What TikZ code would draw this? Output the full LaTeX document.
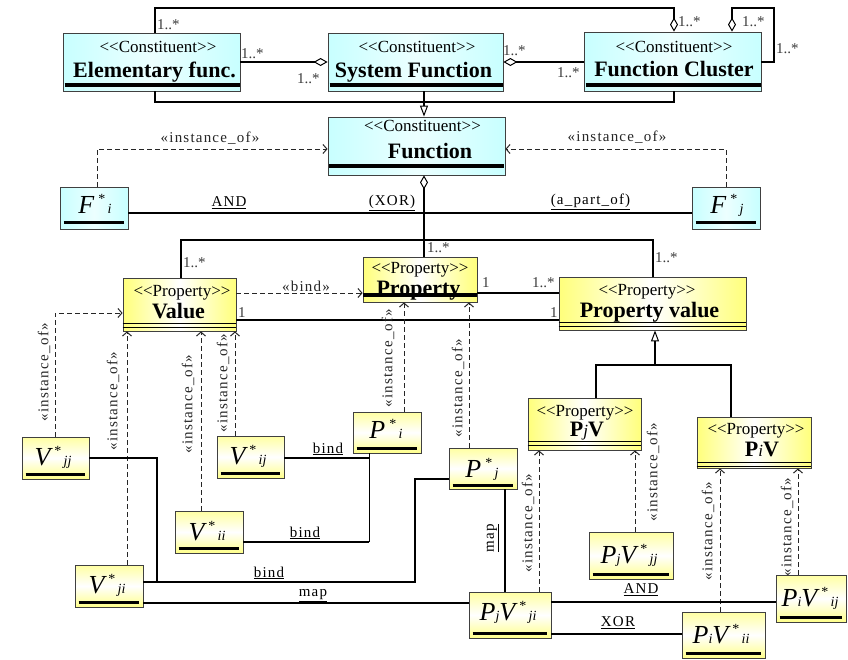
\documentclass[tikz,border=0pt]{standalone}
\usepackage{fontspec}
\setmainfont{Liberation Serif}
\newfontfamily\spaced[LetterSpace=8]{Liberation Serif}
\usetikzlibrary{arrows.meta,calc}
\definecolor{cyanbox}{RGB}{200,255,255}
\definecolor{ylw}{RGB}{255,255,100}
\definecolor{mult}{RGB}{60,60,60}
\newcommand\stL{<\kern0pt<}
\newcommand\stR{>\kern0pt>}
\newcommand\smallfs{\fontsize{14}{14}\selectfont}
\newcommand\mainit{\fontsize{26}{26}\selectfont\itshape}
\newcommand\stsb[1]{\kern4pt\raisebox{10pt}{\smallfs *}{\smallfs\itshape\,#1}}
\tikzset{
  box/.style={rectangle, draw=black!75, line width=0.8pt, inner sep=0pt},
  cbox/.style={box, left color=cyanbox, right color=cyanbox, middle color=cyanbox!35},
  ybig/.style={box, left color=ylw!85, right color=ylw!85, middle color=white},
  ysmall/.style={box, top color=ylw!60, bottom color=ylw!75, middle color=white},
  ster/.style={font=\fontsize{17}{17}\selectfont, anchor=base, inner sep=0pt},
  ttl/.style={font=\fontsize{22}{22}\selectfont\bfseries, anchor=base, inner sep=0pt},
  itx/.style={anchor=base, inner sep=0pt},
  mlt/.style={font=\fontsize{15}{15}\selectfont, text=mult, inner sep=0pt, anchor=west},
  conn/.style={line width=1.6pt, black},
  inst/.style={line width=1pt, black!85, dash pattern=on 5pt off 3pt, -{Straight Barb[length=4pt,width=9pt]}},
  agg/.style={conn, {Diamond[open, length=14pt, width=8pt, line width=1pt]}-},
  gen/.style={conn, -{Triangle[open, length=11pt, width=8pt, line width=1pt]}},
  lbl/.style={font=\spaced\fontsize{15}{15}\selectfont, inner sep=0pt},
  ilbl/.style={lbl, text=black!85, rotate=90},
  bar/.style={line width=4pt, black},
  dbar/.style={line width=1.7pt, black},
  ul/.style={line width=2.2pt, black},
}
\begin{document}
\begin{tikzpicture}[x=1pt,y=-1pt]
\useasboundingbox (0,0) rectangle (848,659);
\fill[white] (0,0) rectangle (848,659);

% ---------- boxes ----------
\node[cbox, minimum width=177pt, minimum height=58pt] (ef) at (151.5,62) {};
\node[cbox, minimum width=175pt, minimum height=58pt] (sf) at (415.5,62) {};
\node[cbox, minimum width=177pt, minimum height=59pt] (fc) at (672.5,61.5) {};
\node[cbox, minimum width=177pt, minimum height=58pt] (fn) at (416.5,146) {};
\node[cbox, minimum width=68pt, minimum height=42pt] (fi) at (94,208) {};
\node[cbox, minimum width=68pt, minimum height=42pt] (fj) at (726,208) {};
\node[ybig, minimum width=113pt, minimum height=53pt] (val) at (179.5,304.5) {};
\node[ybig, minimum width=114pt, minimum height=45pt] (pr) at (420,279.5) {};
\node[ybig, minimum width=187pt, minimum height=53pt] (pv) at (652.5,303.5) {};
\node[ybig, minimum width=113pt, minimum height=52pt] (pjv) at (584.5,424) {};
\node[ybig, minimum width=114pt, minimum height=51pt] (piv) at (754,442.5) {};
\node[ysmall, minimum width=67pt, minimum height=42pt] (vjj) at (55.5,458) {};
\node[ysmall, minimum width=67pt, minimum height=42pt] (vij) at (250.5,457) {};
\node[ysmall, minimum width=68pt, minimum height=41pt] (pi) at (387,432.5) {};
\node[ysmall, minimum width=68pt, minimum height=42pt] (vii) at (209,532) {};
\node[ysmall, minimum width=68pt, minimum height=42pt] (vji) at (109,586) {};
\node[ysmall, minimum width=68pt, minimum height=41pt] (pj) at (483,468.5) {};
\node[ysmall, minimum width=84pt, minimum height=47pt] (pjvjj) at (631,555.5) {};
\node[ysmall, minimum width=82pt, minimum height=46pt] (pjvji) at (510,615) {};
\node[ysmall, minimum width=83pt, minimum height=46pt] (pivii) at (723.5,635) {};
\node[ysmall, minimum width=70pt, minimum height=47pt] (pivij) at (811,598.5) {};

% ---------- bars ----------
\foreach \b in {ef,sf,fc}{\draw[bar] ($(\b.south west)+(2,-6)$) -- ($(\b.south east)+(0,-6)$);}
\draw[bar] ($(fn.south west)+(1,-9)$) -- ($(fn.south east)+(-1,-9)$);
\foreach \b/\o in {val/0,pv/0,pjv/-1,piv/2}{
  \draw[dbar] ($(\b.south west)+(0,-8+\o)$) -- ($(\b.south east)+(0,-8+\o)$);
  \draw[dbar] ($(\b.south west)+(0,-4+\o)$) -- ($(\b.south east)+(0,-4+\o)$);}
\foreach \b/\o in {fi/7,fj/7,vjj/5,vij/5,pi/5,vii/5,vji/5,pj/4,pjvjj/5,pjvji/5,pivii/5,pivij/5}{
  \draw[ul] ($(\b.south west)+(4,-\o)$) -- ($(\b.south east)+(-4,-\o)$);}

% ---------- coordinates ----------
\coordinate (t1) at (155,8);  \coordinate (t2) at (674,8);
\coordinate (s1) at (732,8);  \coordinate (s2) at (774,8);  \coordinate (s3) at (774,62);
\coordinate (g1) at (155,102); \coordinate (g2) at (674,102); \coordinate (x424) at (424,102);
\coordinate (i1) at (97,149);  \coordinate (i2) at (726,149);
\coordinate (h1) at (424,213);
\coordinate (e1) at (181,240); \coordinate (e2) at (653,240);
\coordinate (b1) at (0,293);   \coordinate (b2) at (0,320);
\coordinate (g3) at (655,365); \coordinate (g4) at (596,365); \coordinate (g5) at (731,365);
\coordinate (k1) at (55,313);
\coordinate (k2) at (127,0); \coordinate (k3) at (201,0); \coordinate (k4) at (235,0);
\coordinate (k5) at (404,0); \coordinate (k6) at (469,0); \coordinate (k7) at (539,0);
\coordinate (k8) at (635,0); \coordinate (k9) at (720,0); \coordinate (k10) at (798,0);
\coordinate (m1) at (157,458); \coordinate (m2) at (157,582);
\coordinate (m3) at (415,582); \coordinate (m4) at (415,479);
\coordinate (n1) at (369,458); \coordinate (n2) at (369,542);
\coordinate (p1) at (0,603); \coordinate (q1) at (505,0);
\coordinate (r1) at (0,602); \coordinate (r2) at (0,634);

% ---------- connectors ----------
\draw[agg] (fc.north -| t2) -- (t2) -- (t1) -- (ef.north -| t1);
\draw[agg] (fc.north -| s1) -- (s1) -- (s2) -- (s3) -- (fc.east |- s3);
\draw[agg] (sf.west) -- (ef.east);
\draw[agg] (sf.east) -- (fc.west |- sf.east);
\draw[conn] (ef.south -| g1) -- (g1) -- (g2) -- (fc.south -| g2);
\draw[gen] (sf.south -| x424) -- (fn.north -| x424);
\draw[inst] (fi.north -| i1) -- (i1) -- (fn.west |- i1);
\draw[inst] (fj.north -| i2) -- (i2) -- (fn.east |- i2);
\draw[conn] (fi.east |- h1) -- (fj.west |- h1);
\draw[agg] (fn.south -| h1) -- (pr.north -| h1);
\draw[conn] (val.north -| e1) -- (e1) -- (e2) -- (pv.north -| e2);
\draw[inst] (val.east |- b1) -- (pr.west |- b1);
\draw[conn] (pr.east |- b1) -- (pv.west |- b1);
\draw[conn] (val.east |- b2) -- (pv.west |- b2);
\draw[gen] (g3) -- (pv.south -| g3);
\draw[conn] (pjv.north -| g4) -- (g4) -- (g5) -- (piv.north -| g5);
\draw[inst] (vjj.north -| k1) -- (k1) -- (val.west |- k1);
\draw[inst] (vji.north -| k2) -- (val.south -| k2);
\draw[inst] (vii.north -| k3) -- (val.south -| k3);
\draw[inst] (vij.north -| k4) -- (val.south -| k4);
\draw[inst] (pi.north -| k5) -- (pr.south -| k5);
\draw[inst] (pj.north -| k6) -- (pr.south -| k6);
\draw[inst] (pjvji.north -| k7) -- (pjv.south -| k7);
\draw[inst] (pjvjj.north -| k8) -- (pjv.south -| k8);
\draw[inst] (pivii.north -| k9) -- (piv.south -| k9);
\draw[inst] (pivij.north -| k10) -- (piv.south -| k10);
\draw[conn] (vjj.east |- m1) -- (m1) -- (m2);
\draw[conn] (vji.east |- m2) -- (m3) -- (m4) -- (pj.west |- m4);
\draw[conn] (vij.east |- n1) -- (n1);
\draw[line width=1pt] (pi.south -| n1) -- (n2);
\draw[conn] (n2) -- (vii.east |- n2);
\draw[conn] (vji.east |- p1) -- (pjvji.west |- p1);
\draw[conn] (pj.south -| q1) -- (pjvji.north -| q1);
\draw[conn] (pjvji.east |- r1) -- (pivij.west |- r1);
\draw[conn] (pjvji.east |- r2) -- (pivii.west |- r2);

% ---------- box texts ----------
\node[ster] (ef-s) at (158,52) {\stL Constituent\stR};
\node[ttl]  (ef-t) at (154.5,77) {Elementary func.};
\node[ster] (sf-s) at (417,52) {\stL Constituent\stR};
\node[ttl]  (sf-t) at (413.5,77) {System Function};
\node[ster] (fc-s) at (674,52) {\stL Constituent\stR};
\node[ttl]  (fc-t) at (674,76) {Function Cluster};
\node[ster] (fn-s) at (422.5,131) {\stL Constituent\stR};
\node[ttl]  (fn-t) at (430,158) {Function};
\node[ster] (val-s) at (182,296) {\stL Property\stR};
\node[ttl]  (val-t) at (178.5,318) {Value};
\node[ster] (pr-s) at (420,273) {\stL Property\stR};
\node[ttl]  (pr-t) at (418.5,295) {Property};
\draw[bar] ($(pr.south west)+(0,-7)$) -- ($(pr.south east)+(0,-7)$);
\node[ster] (pv-s) at (647,295) {\stL Property\stR};
\node[ttl]  (pv-t) at (649.5,317) {Property value};
\node[ster] (pjv-s) at (585,416) {\stL Property\stR};
\node[ttl]  (pjv-t) at (587,436) {P{\fontsize{17}{17}\selectfont\mdseries\itshape j}V};
\node[ster] (piv-s) at (756,434) {\stL Property\stR};
\node[ttl]  (piv-t) at (762,456) {P{\fontsize{17}{17}\selectfont\mdseries\itshape i}V};

\node[itx] (fi-t) at (95,213) {{\mainit F}\stsb{i}};
\node[itx] (fj-t) at (727,213) {{\mainit F}\stsb{j}};
\node[itx] (vjj-t) at (53,465) {{\mainit V}\stsb{jj}};
\node[itx] (vij-t) at (248,464) {{\mainit V}\stsb{ij}};
\node[itx] (pi-t) at (386,438) {{\mainit P}\stsb{i}};
\node[itx] (vii-t) at (207,540) {{\mainit V}\stsb{ii}};
\node[itx] (vji-t) at (107,593) {{\mainit V}\stsb{ji}};
\node[itx] (pj-t) at (482,477) {{\mainit P}\stsb{j}};
\node[itx] (pjvjj-t) at (629,563) {{\mainit P{\smallfs j}V}\stsb{jj}};
\node[itx] (pjvji-t) at (508,620) {{\mainit P{\smallfs j}V}\stsb{ji}};
\node[itx] (pivii-t) at (721,643) {{\mainit P{\smallfs i}V}\stsb{ii}};
\node[itx] (pivij-t) at (810,606) {{\mainit P{\smallfs i}V}\stsb{ij}};

% ---------- multiplicities ----------
\node[mlt] (ma) at (157,25) {1..*};
\node[mlt] (mb) at (678,22) {1..*};
\node[mlt] (mc) at (742,22) {1..*};
\node[mlt] (md) at (776,49) {1..*};
\node[mlt] (me) at (241,54) {1..*};
\node[mlt] (mf) at (297,79) {1..*};
\node[mlt] (mg) at (503,51) {1..*};
\node[mlt] (mh) at (557,73) {1..*};
\node[mlt] (mi) at (427,248) {1..*};
\node[mlt] (mj) at (183,263) {1..*};
\node[mlt] (mk) at (655,258) {1..*};
\node[mlt] (ml) at (482,283) {1};
\node[mlt] (mm) at (532,283) {1..*};
\node[mlt] (mn) at (238,313) {1};
\node[mlt] (mo) at (550,313) {1};

% ---------- connector labels ----------
\node[lbl] (l-and) at (229,203) {\underline{AND}};
\node[lbl] (l-xor) at (392,203) {\underline{(XOR)}};
\node[lbl] (l-apo) at (590.5,202) {\underline{(a\_part\_of)}};
\node[lbl, text=black!85] (l-i1) at (210,138) {«instance\_of»};
\node[lbl, text=black!85] (l-i2) at (617,137) {«instance\_of»};
\node[lbl, text=black!85] (l-bd) at (306,286) {«bind»};
\node[ilbl] (r1l) at (44,372) {«instance\_of»};
\node[ilbl] (r2l) at (113,401) {«instance\_of»};
\node[ilbl] (r3l) at (188,404) {«instance\_of»};
\node[ilbl] (r4l) at (223,383) {«instance\_of»};
\node[ilbl] (r5l) at (388,358) {«instance\_of»};
\node[ilbl] (r6l) at (458,388) {«instance\_of»};
\node[ilbl] (r7l) at (528,523) {«instance\_of»};
\node[ilbl] (r8l) at (653,472) {«instance\_of»};
\node[ilbl] (r9l) at (708,531) {«instance\_of»};
\node[ilbl] (r10l) at (787,527) {«instance\_of»};
\node[lbl] (l-b1) at (328,449) {\underline{bind}};
\node[lbl] (l-b2) at (305,533) {\underline{bind}};
\node[lbl] (l-b3) at (269,573) {\underline{bind}};
\node[lbl] (l-m1) at (313,596) {\underline{map}};
\node[lbl, rotate=90] (l-m2) at (493,538) {\underline{map}};
\node[lbl] (l-a2) at (641,590) {\underline{AND}};
\node[lbl] (l-x2) at (618,623) {\underline{XOR}};
\end{tikzpicture}
\end{document}
